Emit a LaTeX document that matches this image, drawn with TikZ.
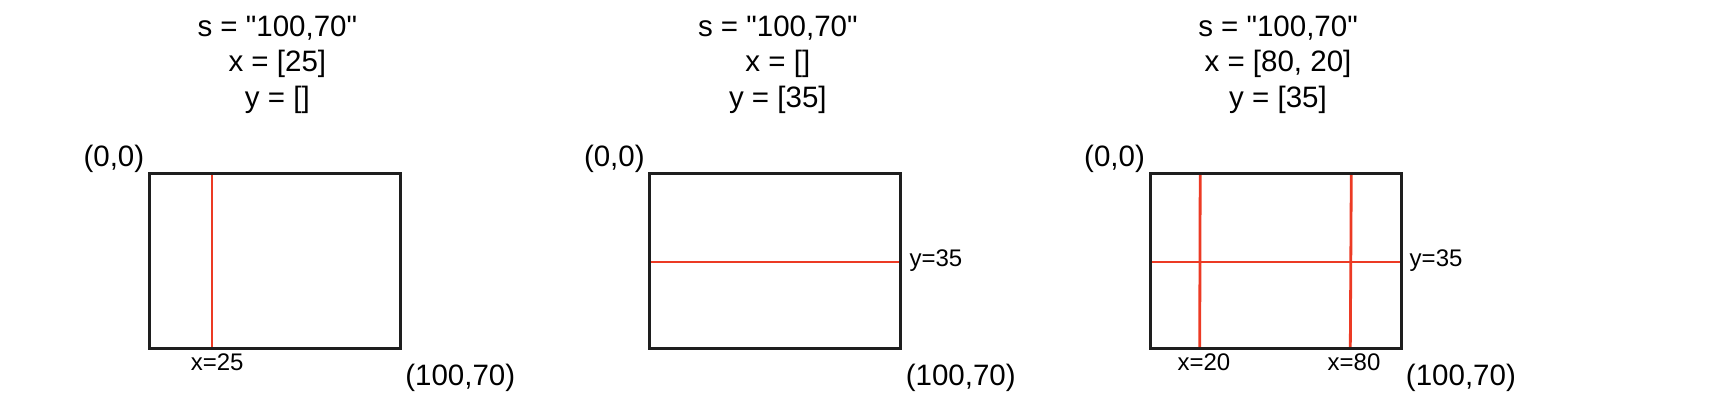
\documentclass[tikz,border=0pt]{standalone}
\usepackage{fontspec}
\setmainfont{Liberation Sans}
\definecolor{cutred}{RGB}{236,58,36}
\definecolor{framegray}{RGB}{30,30,30}
\tikzset{
    frame/.style={draw=framegray, line width=3pt},
    cut/.style={draw=cutred, line width=2.8pt},
    title/.style={anchor=base, inner sep=0pt, font=\fontsize{29.5}{34}\selectfont},
    corner/.style={anchor=base west, inner sep=0pt, font=\fontsize{29.5}{34}\selectfont},
    ticklabel/.style={anchor=base, inner sep=0pt, font=\fontsize{24}{28}\selectfont},
    sidelabel/.style={anchor=base west, inner sep=0pt, font=\fontsize{24}{28}\selectfont}
}
\newcommand{\qt}{\textquotedbl}

\begin{document}
\begin{tikzpicture}[x=2.51pt, y=-2.5pt]
    \useasboundingbox (-59.5,-69.6) rectangle (621.8,96.3);

    % s = "100,70", x = [25]
    \begin{scope}
        \node[title] (s1) at (51,-54.9) {s = \qt100,70\qt};
        \node[title] (x1) at (51,-40.9) {x = [25]};
        \node[title] (y1) at (51,-26.7) {y = []};
        \node[corner] (o1) at (-26.3,-2.9) {(0,0)};
        \node[corner] (e1) at (101.9,84.8) {(100,70)};
        \draw[cut] (25,0) coordinate (a1) -- (25,70) coordinate (b1);
        \draw[frame] (0,0) rectangle (100,70);
        \node[ticklabel] (lx1) at (27,78.8) {x=25};
    \end{scope}

    % s = "100,70", y = [35]
    \begin{scope}[xshift=500.5pt]
        \node[title] (s2) at (51,-54.9) {s = \qt100,70\qt};
        \node[title] (x2) at (51,-40.9) {x = []};
        \node[title] (y2) at (51,-26.7) {y = [35]};
        \node[corner] (o2) at (-26.3,-2.9) {(0,0)};
        \node[corner] (e2) at (101.9,84.8) {(100,70)};
        \draw[cut] (0,35.2) coordinate (a2) -- (100,35.2) coordinate (b2);
        \draw[frame] (0,0) rectangle (100,70);
        \node[sidelabel] (ly2) at (103.4,37.1) {y=35};
    \end{scope}

    % s = "100,70", x = [80, 20], y = [35]
    \begin{scope}[xshift=1000.7pt]
        \node[title] (s3) at (51,-54.9) {s = \qt100,70\qt};
        \node[title] (x3) at (51,-40.9) {x = [80, 20]};
        \node[title] (y3) at (51,-26.7) {y = [35]};
        \node[corner] (o3) at (-26.3,-2.9) {(0,0)};
        \node[corner] (e3) at (101.9,84.8) {(100,70)};
        \draw[cut] (20,0) coordinate (a3) -- (19.8,70) coordinate (b3);
        \draw[cut] (80.2,0) coordinate (c3) -- (79.8,70) coordinate (d3);
        \draw[cut] (0,35.2) coordinate (f3) -- (100,35.2) coordinate (g3);
        \draw[frame] (0,0) rectangle (100,70);
        \node[ticklabel] (lx3) at (21.5,78.8) {x=20};
        \node[ticklabel] (lx3b) at (81.3,78.8) {x=80};
        \node[sidelabel] (ly3) at (103.4,37.1) {y=35};
    \end{scope}
\end{tikzpicture}
\end{document}
